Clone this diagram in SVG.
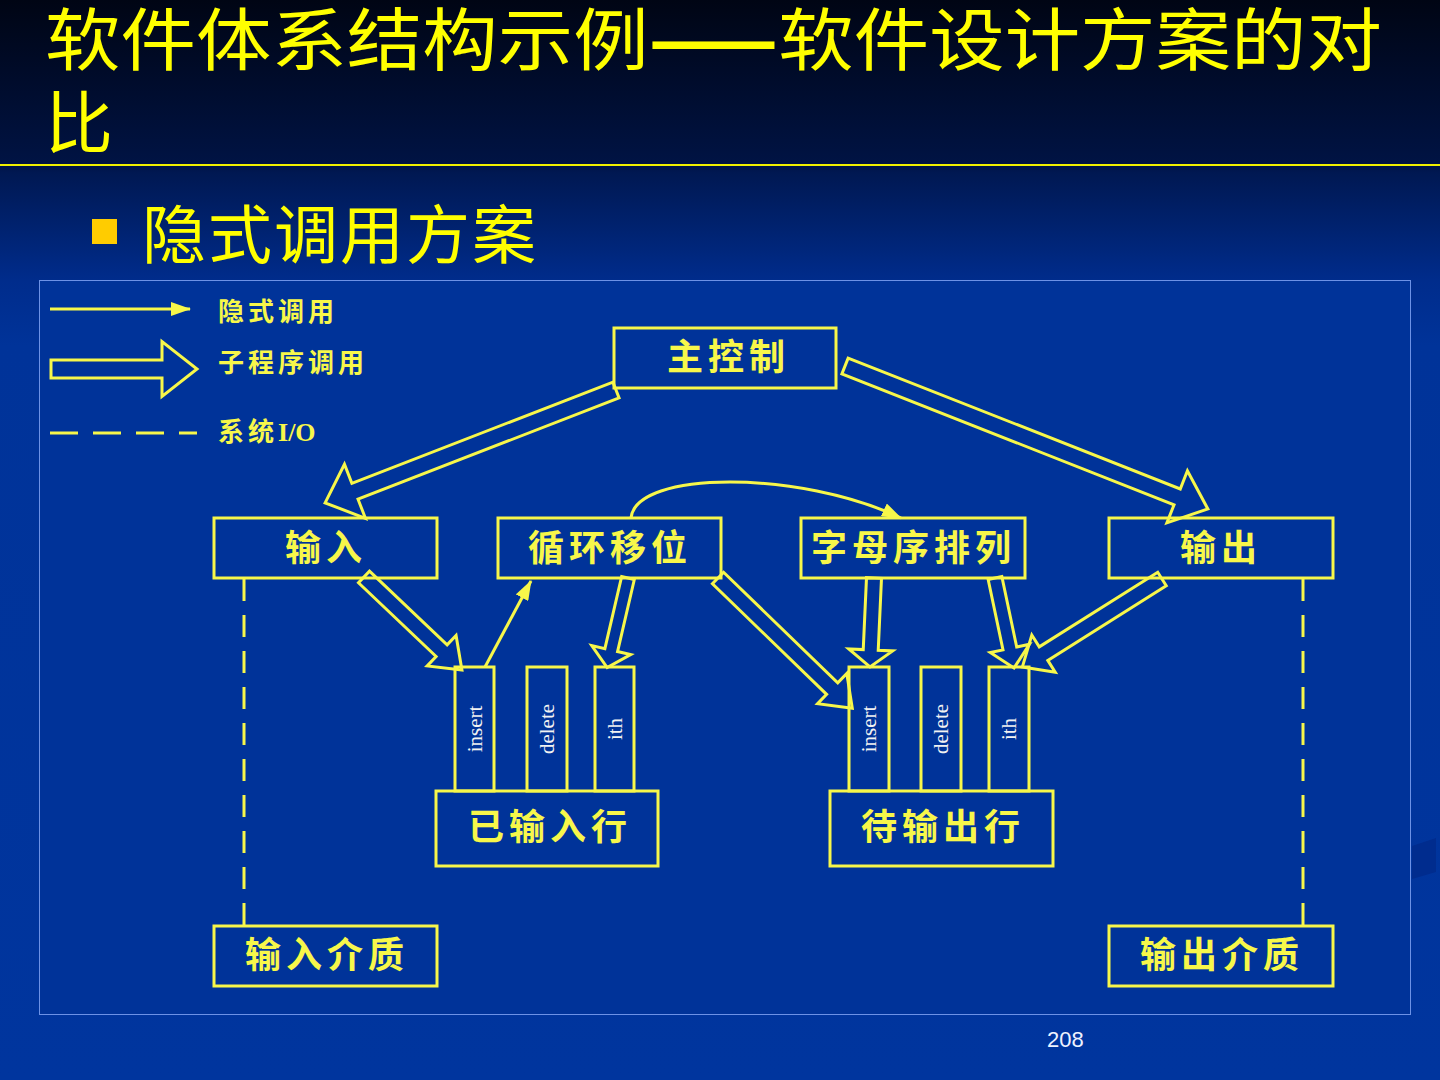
<svg xmlns="http://www.w3.org/2000/svg" width="1440" height="1080" viewBox="0 0 1440 1080">
<defs>
<linearGradient id="bg" gradientUnits="userSpaceOnUse" x1="0" y1="0" x2="0" y2="1080">
<stop offset="0" stop-color="#000514"/>
<stop offset="0.152" stop-color="#001344"/>
<stop offset="0.16" stop-color="#001852"/>
<stop offset="0.26" stop-color="#002c8c"/>
<stop offset="0.32" stop-color="#003399"/>
<stop offset="1" stop-color="#00359e"/>
</linearGradient>
<marker id="ah" viewBox="0 0 20 14" refX="19" refY="7" markerWidth="20" markerHeight="14" markerUnits="userSpaceOnUse" orient="auto">
<path d="M0,0 L20,7 L0,14 z" fill="#f7f74a"/>
</marker>
<style>
.box{fill:none;stroke:#f7f74a;stroke-width:3}
.hol{fill:none;stroke:#f7f74a;stroke-width:3;stroke-linejoin:miter}
.thin{fill:none;stroke:#f7f74a;stroke-width:3}
.dash{fill:none;stroke:#f7f74a;stroke-width:3;stroke-dasharray:22 14}
.lbl{font-family:"Noto Sans CJK SC","Noto Sans",sans-serif;font-weight:700;font-size:36px;fill:#f7f74a;letter-spacing:5px}
.leg{font-family:"Noto Sans CJK SC","Noto Sans",sans-serif;font-weight:700;font-size:26px;fill:#f7f74a;letter-spacing:4px}
.op{font-family:"Liberation Serif",serif;font-size:21px;fill:#f2f2f2;text-anchor:middle}
.title{font-family:"Noto Sans CJK SC","Noto Sans",sans-serif;font-weight:400;fill:#ffff00}
</style>
</defs>
<rect x="0" y="0" width="1440" height="1080" fill="url(#bg)"/>
<line x1="0" y1="165" x2="1440" y2="165" stroke="#f0f000" stroke-width="2"/>
<text class="title" x="45" y="65" font-size="68" textLength="1337" lengthAdjust="spacingAndGlyphs">软件体系结构示例<tspan font-weight="900">——</tspan>软件设计方案的对</text>
<text class="title" x="45" y="148" font-size="68">比</text>
<rect x="92" y="219" width="25" height="25" fill="#ffcc00"/>
<text class="title" x="142" y="258" font-size="64" letter-spacing="2">隐式调用方案</text>
<rect x="39.5" y="280.5" width="1371" height="734" fill="#003399" stroke="#6d92e6" stroke-width="1"/>
<polygon points="1412,846 1436,838 1436,872 1412,879" fill="#002c8e"/>
<text x="1047" y="1047" font-family="Liberation Sans, Arial, sans-serif" font-size="22" fill="#eef2ff">208</text>

<g id="legend">
<line class="thin" x1="50" y1="309" x2="190" y2="309" marker-end="url(#ah)"/>
<polygon class="hol" points="0,-9 111,-9 111,-27.5 146,0 111,27.5 111,9 0,9" transform="translate(51,369)"/>
<line class="dash" x1="50" y1="433" x2="197" y2="433" style="stroke-dasharray:28 15"/>
<text class="leg" x="218" y="321">隐式调用</text>
<text class="leg" x="218" y="372">子程序调用</text>
<text class="leg" x="218" y="441">系统<tspan font-family="Liberation Serif, serif" letter-spacing="0">I/O</tspan></text>
</g>

<g id="connectors">
<polygon class="hol" points="0,-8.5 280,-8.5 280,-29 312,0 280,29 280,8.5 0,8.5" transform="translate(616,390) rotate(158.8)"/>
<polygon class="hol" points="0,-8.5 357,-8.5 357,-28 390,0 357,28 357,8.5 0,8.5" transform="translate(845,366) rotate(21.5)"/>
<polygon class="hol" points="0,-8 107,-8 107,-21 135,0 107,21 107,8 0,8" transform="translate(364,577) rotate(43.5)"/>
<polygon class="hol" points="0,-6.5 74,-6.5 74,-20 92,0 74,20 74,6.5 0,6.5" transform="translate(628,578) rotate(103.1)"/>
<polygon class="hol" points="0,-8 159,-8 159,-21 187,0 159,21 159,8 0,8" transform="translate(718,578) rotate(44.1)"/>
<polygon class="hol" points="0,-7.5 72,-7.5 72,-22 89,0 72,22 72,7.5 0,7.5" transform="translate(874,578) rotate(92.6)"/>
<polygon class="hol" points="0,-7 72,-7 72,-20 92,0 72,20 72,7 0,7" transform="translate(995,578) rotate(78.1)"/>
<polygon class="hol" points="0,-8 140,-8 140,-22 165,0 140,22 140,8 0,8" transform="translate(1162,579) rotate(147.8)"/>
<line class="thin" x1="485" y1="667" x2="531" y2="581" marker-end="url(#ah)"/>
<path class="thin" d="M631,518 C636,470 800,470 901,518" marker-end="url(#ah)"/>
<line class="dash" x1="244" y1="579" x2="244" y2="925"/>
<line class="dash" x1="1303" y1="579" x2="1303" y2="925"/>
</g>

<g id="main-control"><rect class="box" x="614" y="328" width="222" height="60"/><text class="lbl" x="667" y="370">主控制</text></g>
<g id="input"><rect class="box" x="214" y="518" width="223" height="60"/><text class="lbl" x="285" y="561">输入</text></g>
<g id="circular-shift"><rect class="box" x="498" y="518" width="223" height="60"/><text class="lbl" x="528" y="561">循环移位</text></g>
<g id="alphabetizer"><rect class="box" x="801" y="518" width="224" height="60"/><text class="lbl" x="811" y="561">字母序排列</text></g>
<g id="output"><rect class="box" x="1109" y="518" width="224" height="60"/><text class="lbl" x="1180" y="561">输出</text></g>

<g id="input-lines">
<rect class="box" x="436" y="791" width="222" height="75"/>
<text class="lbl" x="468" y="840">已输入行</text>
<rect class="box" x="455" y="667" width="39" height="124"/>
<rect class="box" x="527" y="667" width="40" height="124"/>
<rect class="box" x="595" y="667" width="39" height="124"/>
<text class="op" transform="translate(482,729) rotate(-90)">insert</text>
<text class="op" transform="translate(554,729) rotate(-90)">delete</text>
<text class="op" transform="translate(622,729) rotate(-90)">ith</text>
</g>

<g id="output-lines">
<rect class="box" x="830" y="791" width="223" height="75"/>
<text class="lbl" x="861" y="840">待输出行</text>
<rect class="box" x="849" y="667" width="40" height="124"/>
<rect class="box" x="921" y="667" width="40" height="124"/>
<rect class="box" x="989" y="667" width="40" height="124"/>
<text class="op" transform="translate(876,729) rotate(-90)">insert</text>
<text class="op" transform="translate(948,729) rotate(-90)">delete</text>
<text class="op" transform="translate(1016,729) rotate(-90)">ith</text>
</g>

<g id="input-medium"><rect class="box" x="214" y="926" width="223" height="60"/><text class="lbl" x="245" y="968">输入介质</text></g>
<g id="output-medium"><rect class="box" x="1109" y="926" width="224" height="60"/><text class="lbl" x="1140" y="968">输出介质</text></g>
</svg>
